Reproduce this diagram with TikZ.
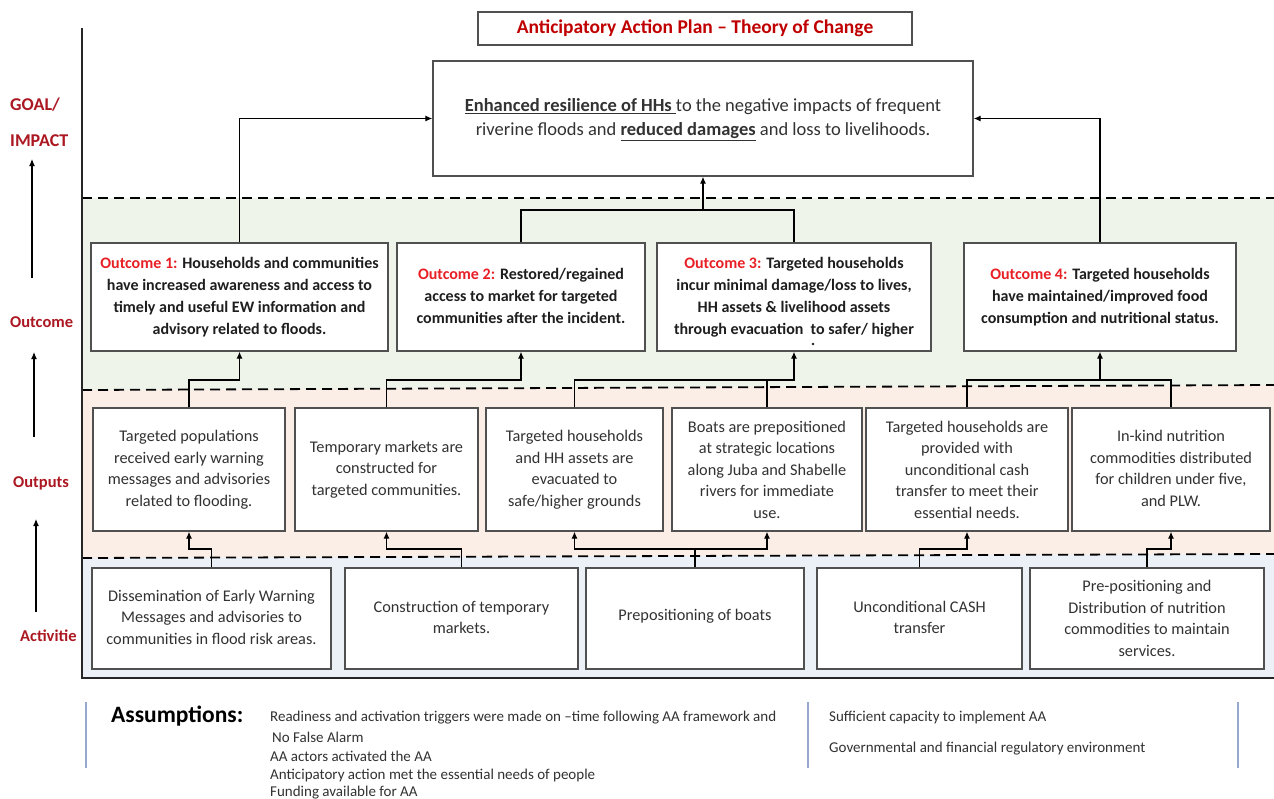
\documentclass[tikz,border=0pt]{standalone}
\usepackage{fontspec}
\setmainfont{Carlito}
\usetikzlibrary{arrows.meta}
\definecolor{ttlred}{RGB}{192,0,0}
\definecolor{ored}{RGB}{232,32,38}
\definecolor{lblred}{RGB}{172,24,34}
\definecolor{bandgreen}{RGB}{238,244,234}
\definecolor{bandpeach}{RGB}{251,238,230}
\definecolor{bandblue}{RGB}{236,240,247}
\definecolor{boxline}{RGB}{80,80,80}
\definecolor{txt}{RGB}{30,30,30}
\definecolor{txtgray}{RGB}{50,50,50}
\definecolor{barblue}{RGB}{150,168,205}
\begin{document}
\begin{tikzpicture}[x=1pt,y=-1pt,
  box/.style={draw=boxline,line width=1.3pt,fill=white,inner sep=0pt,align=center},
  obox/.style={box,minimum height=108pt,text=txt,font=\fontsize{16}{22}\selectfont\bfseries},
  pbox/.style={box,minimum height=123pt,text=txtgray,font=\fontsize{16.3}{21.5}\selectfont},
  abox/.style={box,minimum height=101pt,text=txtgray,font=\fontsize{16.3}{21.5}\selectfont},
  lbl/.style={text=lblred,font=\fontsize{16.5}{18}\selectfont\bfseries,inner sep=0pt},
  conn/.style={line width=1.2pt,-{Latex[length=7pt,width=6pt]}},
  link/.style={line width=1.2pt},
  dashline/.style={line width=1.8pt,dash pattern=on 10pt off 6pt},
  asm/.style={text=txtgray,font=\fontsize{15}{17}\selectfont,inner sep=0pt,anchor=west},
  bar/.style={draw=barblue,line width=1.8pt}
]
\useasboundingbox (0,0) rectangle (1274,798);
\fill[white] (0,0) rectangle (1274,798);
% bands
\fill[bandgreen] (82,198) -- (1274,198) -- (1274,385) -- (82,390) -- cycle;
\fill[bandpeach] (82,390) -- (1274,385) -- (1274,554) -- (82,558) -- cycle;
\fill[bandblue] (82,558) -- (1274,554) -- (1274,678) -- (82,678) -- cycle;
\draw[dashline] (82,198) -- (1274,198);
\draw[dashline] (82,390) -- (1274,385);
\draw[dashline] (82,558) -- (1274,554);
\draw[line width=2pt,black!85] (82,28) -- (82,678) -- (1274,678);

% title and goal
\node[box,minimum width=434pt,minimum height=33pt,text=ttlred,font=\fontsize{19.5}{22}\selectfont\bfseries] (title) at (695,28.5) {Anticipatory Action Plan -- Theory of Change};
\node[box,minimum width=540pt,minimum height=115pt,text=txtgray,font=\fontsize{18.5}{24}\selectfont] (goal) at (703,118.5)
 {\raisebox{8pt}{\begin{tabular}{@{}c@{}}\underline{\textbf{Enhanced resilience of HHs\ }}to the negative impacts of frequent\\ riverine floods and \underline{\textbf{reduced damages}} and loss to livelihoods.\end{tabular}}};

% left labels
\node[lbl,anchor=west,font=\fontsize{18}{20}\selectfont\bfseries] (goallbl) at (10,105) {GOAL/};
\node[lbl,anchor=west,font=\fontsize{18}{20}\selectfont\bfseries] (implbl) at (10,141) {IMPACT};
\node[lbl,anchor=west] (outclbl) at (10,322) {Outcome};
\node[lbl,anchor=west] (outplbl) at (13,483) {Outputs};
\node[lbl,anchor=west] (actlbl) at (20,636) {Activitie};
\coordinate (la1s) at (32,278); \coordinate (la1e) at (32,159);
\coordinate (la2s) at (34,437); \coordinate (la2e) at (34,352);
\coordinate (la3s) at (36,612); \coordinate (la3e) at (36,519);
\draw[conn] (la1s) -- (la1e);
\draw[conn] (la2s) -- (la2e);
\draw[conn] (la3s) -- (la3e);

% outcomes
\node[obox,minimum width=297pt] (o1) at (239.5,297) {\textcolor{ored}{Outcome 1:} Households and communities\\ have increased awareness and access to\\ timely and useful EW information and\\ advisory related to floods.};
\node[obox,minimum width=248pt] (o2) at (521,297) {\raisebox{6pt}{\begin{tabular}{@{}c@{}}\textcolor{ored}{Outcome 2:} Restored/regained\\ access to market for targeted\\ communities after the incident.\end{tabular}}};
\node[obox,minimum width=274pt] (o3) at (794,297) {\textcolor{ored}{Outcome 3:} Targeted households\\ incur minimal damage/loss to lives,\\ HH assets \& livelihood assets\\ through evacuation\ \ to safer/ higher};
\fill[txt] (813,344) circle (1.3pt);
\node[obox,minimum width=272pt] (o4) at (1100,297) {\raisebox{6pt}{\begin{tabular}{@{}c@{}}\textcolor{ored}{Outcome 4:} Targeted households\\ have maintained/improved food\\ consumption and nutritional status.\end{tabular}}};

% outputs
\node[pbox,minimum width=192pt] (p1) at (189,469.5) {\raisebox{7pt}{\begin{tabular}{@{}c@{}}Targeted populations\\ received early warning\\ messages and advisories\\ related to flooding.\end{tabular}}};
\node[pbox,minimum width=183pt] (p2) at (386.5,469.5) {\raisebox{7pt}{\begin{tabular}{@{}c@{}}Temporary markets are\\ constructed for\\ targeted communities.\end{tabular}}};
\node[pbox,minimum width=177pt] (p3) at (574.5,469.5) {\raisebox{7pt}{\begin{tabular}{@{}c@{}}Targeted households\\ and HH assets are\\ evacuated to\\ safe/higher grounds\end{tabular}}};
\node[pbox,minimum width=190pt] (p4) at (767,469.5) {Boats are prepositioned\\ at strategic locations\\ along Juba and Shabelle\\ rivers for immediate\\ use.};
\node[pbox,minimum width=202pt] (p5) at (967,469.5) {Targeted households are\\ provided with\\ unconditional cash\\ transfer to meet their\\ essential needs.};
\node[pbox,minimum width=198pt] (p6) at (1171,469.5) {\raisebox{7pt}{\begin{tabular}{@{}c@{}}In-kind nutrition\\ commodities distributed\\ for children under five,\\ and PLW.\end{tabular}}};

% activities
\node[abox,minimum width=239pt] (a1) at (211.5,618.5) {\raisebox{7pt}{\begin{tabular}{@{}c@{}}Dissemination of Early Warning\\ Messages and advisories to\\ communities in flood risk areas.\end{tabular}}};
\node[abox,minimum width=233pt] (a2) at (461.5,618.5) {\raisebox{7pt}{\begin{tabular}{@{}c@{}}Construction of temporary\\ markets.\end{tabular}}};
\node[abox,minimum width=218pt] (a3) at (695,618.5) {\raisebox{7pt}{Prepositioning of boats}};
\node[abox,minimum width=205pt] (a4) at (919.5,618.5) {\raisebox{7pt}{\begin{tabular}{@{}c@{}}Unconditional CASH\\ transfer\end{tabular}}};
\node[abox,minimum width=234pt] (a5) at (1147,618.5) {Pre-positioning and\\ Distribution of nutrition\\ commodities to maintain\\ services.};

% connectors outcomes -> goal
\coordinate (gj) at (703,210);
\draw[conn] (o1.north) |- (goal.west);
\draw[conn] (o4.north) |- (goal.east);
\draw[link] (o2.north) |- (gj) -| (o3.north);
\draw[conn] (gj) -- (goal.south);

% outputs -> outcomes
\coordinate (h1) at (0,380);
\draw[conn] (p1.north) |- (o1.south |- h1) -- (o1.south);
\draw[conn] (p2.north) |- (o2.south |- h1) -- (o2.south);
\draw[conn] (p3.north) |- (o3.south |- h1) -- (o3.south);
\draw[link] (p4.north) -- (p4.north |- h1);
\draw[link] (p5.north) |- (p6.north |- h1) -- (p6.north);
\draw[conn] (o4.south |- h1) -- (o4.south);

% activities -> outputs
\coordinate (h2) at (0,549);
\draw[conn] (a1.north) |- (p1.south |- h2) -- (p1.south);
\draw[conn] (a2.north) |- (p2.south |- h2) -- (p2.south);
\draw[conn] (a3.north) |- (p3.south |- h2) -- (p3.south);
\draw[conn] (a3.north |- h2) -| (p4.south);
\draw[conn] (a4.north) |- (p5.south |- h2) -- (p5.south);
\draw[conn] (a5.north) |- (p6.south |- h2) -- (p6.south);

% assumptions
\draw[bar] (86,702) -- (86,768);
\draw[bar] (808,702) -- (808,768);
\draw[bar] (1238,702) -- (1238,768);
\node[text=black,font=\fontsize{23.5}{26}\selectfont\bfseries,inner sep=0pt,anchor=west] (asmttl) at (111,716) {Assumptions:};
\node[asm] (as1) at (270,718) {Readiness and activation triggers were made on --time following AA framework and};
\node[asm] (as2) at (272,737) {No False Alarm};
\node[asm] (as3) at (270,756) {AA actors activated the AA};
\node[asm] (as4) at (270,775) {Anticipatory action met the essential needs of people};
\node[asm] (as5) at (270,793) {Funding available for AA};
\node[asm] (as6) at (829,717) {Sufficient capacity to implement AA};
\node[asm] (as7) at (829,749) {Governmental and financial regulatory environment};
\end{tikzpicture}
\end{document}
